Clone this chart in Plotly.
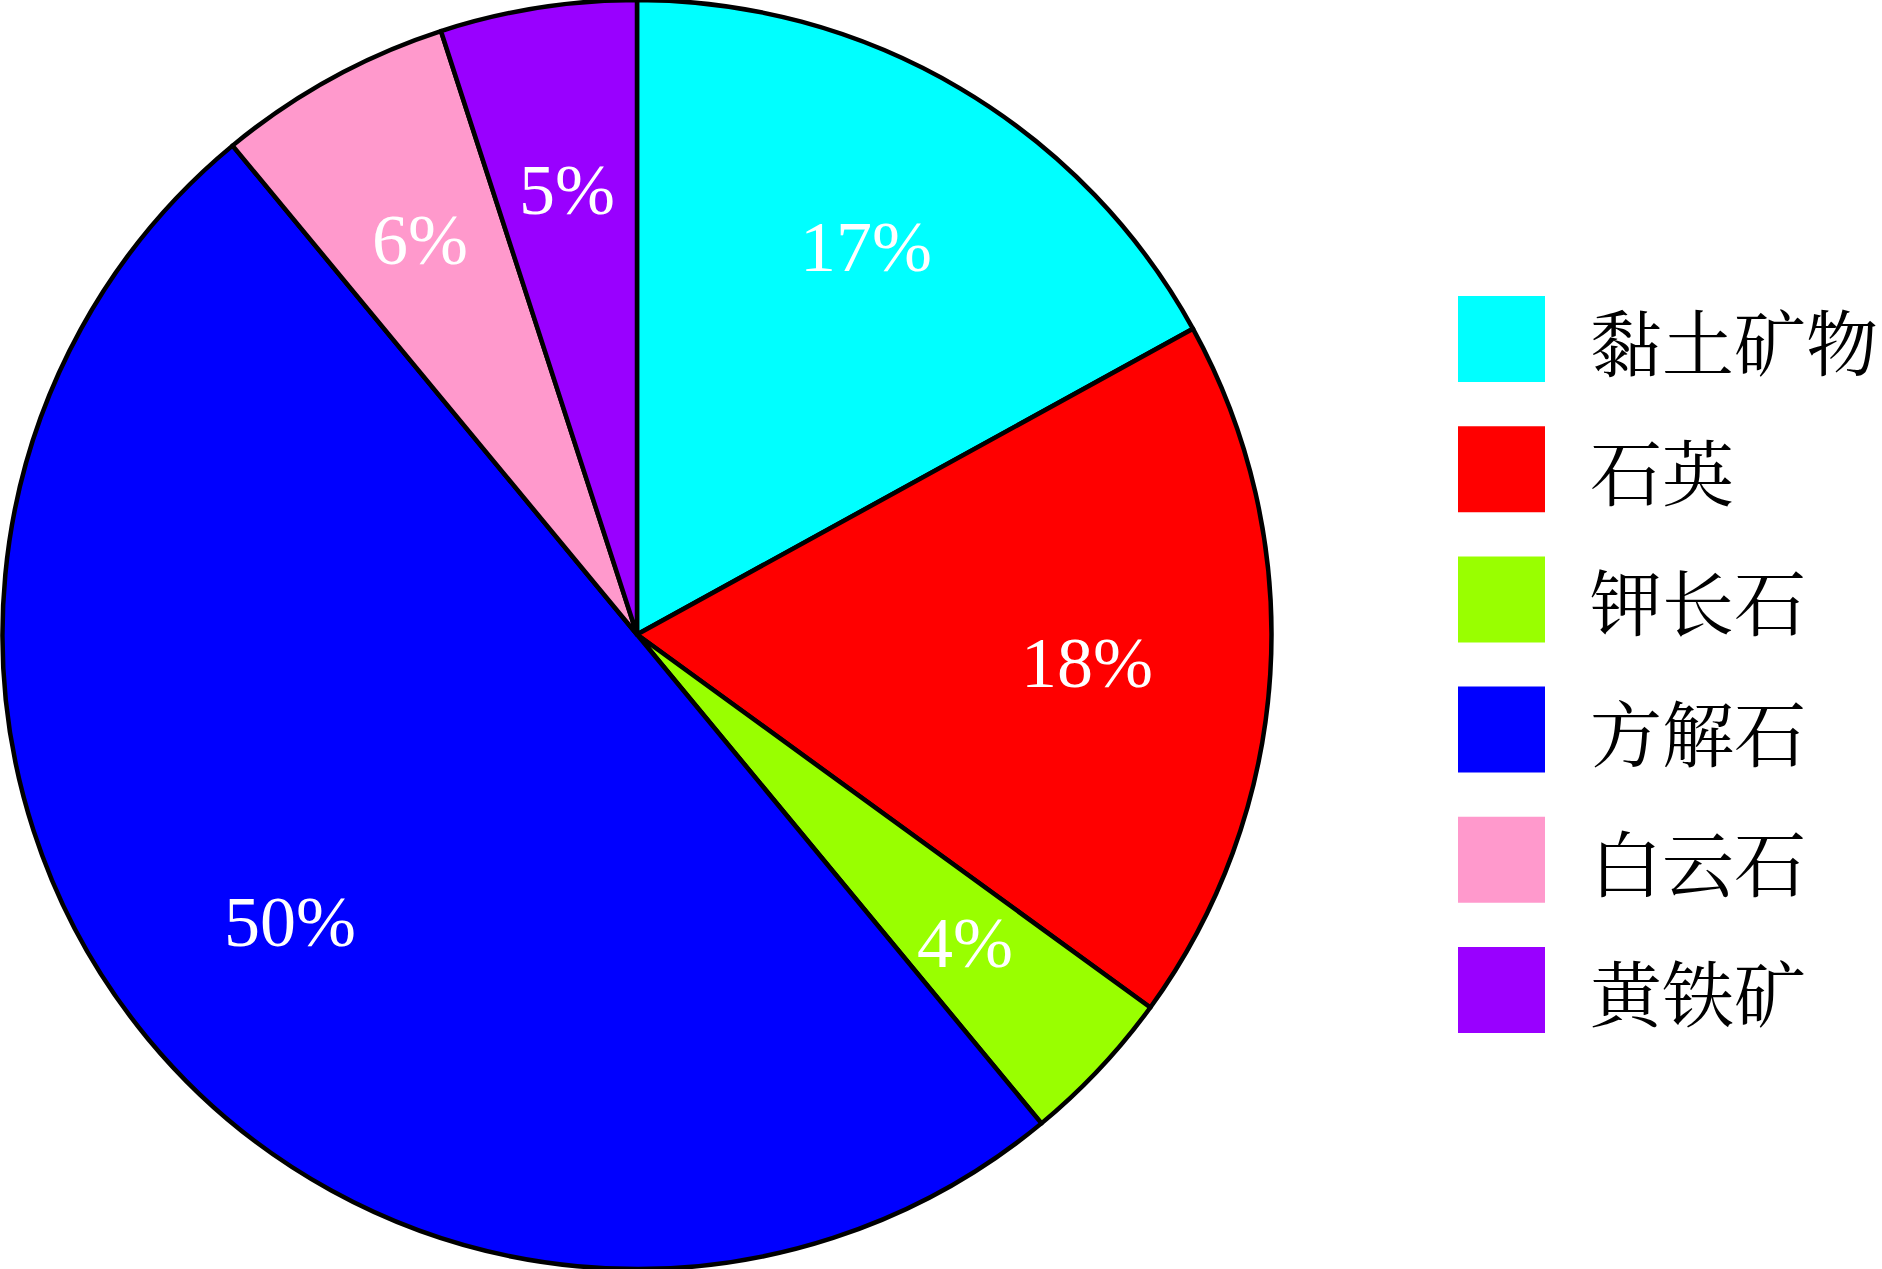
import math
import plotly.graph_objects as go

# mineral composition (percent)
minerals = ["黏土矿物", "石英", "钾长石", "方解石", "白云石", "黄铁矿"]
shares = [17, 18, 4, 50, 6, 5]
colors = ["#00FFFF", "#FF0000", "#99FF00", "#0000FF", "#FF99CC", "#9900FF"]

W, H = 1882, 1269
pie_w = 1274  # width of pie domain in px

fig = go.Figure()
fig.add_trace(go.Pie(
    labels=minerals,
    values=shares,
    sort=False,
    direction="clockwise",
    rotation=0,
    marker=dict(colors=colors, line=dict(color="black", width=4.5)),
    textinfo="none",
    domain=dict(x=[0, pie_w / W], y=[0, 1]),
    showlegend=False,
    hoverinfo="label+percent",
))

# percentage labels, placed along each slice's mid angle
cx, cy = pie_w / 2, H / 2
r = min(pie_w, H) / 2
annotations = []
total = sum(shares)
cum = 0
for v in shares:
    mid = (cum + v / 2) / total * 2 * math.pi
    cum += v
    px = cx + 0.71 * r * math.sin(mid)
    py = cy - 0.71 * r * math.cos(mid)
    annotations.append(dict(
        text=f"{v}%", xref="paper", yref="paper",
        x=px / W, y=1 - py / H, xanchor="center", yanchor="middle",
        showarrow=False,
        font=dict(family="Liberation Serif, serif", size=72, color="white"),
    ))

# legend drawn as big swatches + text on the right
shapes = []
row0, step = 339, 130.2
for i, (name, c) in enumerate(zip(minerals, colors)):
    yc = row0 + i * step
    shapes.append(dict(
        type="rect", xref="paper", yref="paper",
        x0=1458 / W, x1=1545 / W,
        y0=1 - (yc - 43) / H, y1=1 - (yc + 43) / H,
        fillcolor=c, line=dict(width=0),
    ))
    annotations.append(dict(
        text=name, xref="paper", yref="paper",
        x=1588 / W, y=1 - yc / H, xanchor="left", yanchor="middle",
        showarrow=False,
        font=dict(family="Noto Serif CJK SC, Noto Sans CJK SC, serif", size=72, color="black"),
    ))

fig.update_layout(
    width=W, height=H,
    margin=dict(l=0, r=0, t=0, b=0),
    paper_bgcolor="white",
    plot_bgcolor="white",
    shapes=shapes,
    annotations=annotations,
)

fig.write_html("out.html", config={"displayModeBar": False},
               post_script="document.body.style.margin='0';")
